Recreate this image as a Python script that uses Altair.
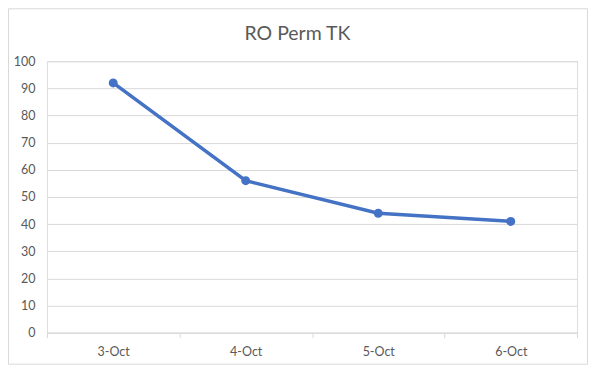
import altair as alt
import pandas as pd

title_text = "RO Perm TK"
dates = ["3-Oct", "4-Oct", "5-Oct", "6-Oct"]
values = [92, 56, 44, 41]
y_ticks = [0, 10, 20, 30, 40, 50, 60, 70, 80, 90, 100]

df = pd.DataFrame({"date": dates, "value": values})
one = pd.DataFrame({"t": [title_text]})

FONT = "Lato"
GRAY = "#595959"
BLUE = "#4472C4"

x = alt.X("date:N", sort=dates, title=None,
          scale=alt.Scale(paddingInner=0, paddingOuter=0),
          axis=alt.Axis(labelAngle=0, tickBand="extent", domainColor="#D9D9D9",
                        tickColor="#D9D9D9", tickSize=5, labelPadding=8,
                        labelFont=FONT, labelFontSize=12.5, labelColor=GRAY, grid=False))
y = alt.Y("value:Q", title=None,
          scale=alt.Scale(domain=[0, 100], nice=False),
          axis=alt.Axis(values=y_ticks, domain=False, ticks=False, labelPadding=12,
                        labelFont=FONT, labelFontSize=12.5, labelColor=GRAY,
                        gridColor="#D9D9D9", gridWidth=1))

base = alt.Chart(df).encode(x=x, y=y)
line = base.mark_line(color=BLUE, strokeWidth=3.5)
pts = base.mark_point(color=BLUE, filled=True, opacity=1, size=80)

frame = alt.Chart(one).mark_rect(fill=None, stroke="#D9D9D9", strokeWidth=1).encode(
    x=alt.value(-38.5), x2=alt.value(531 + 10.5),
    y=alt.value(-52.5), y2=alt.value(272 + 31.5),
)

title = alt.Chart(one).mark_text(
    font=FONT, fontSize=19.5, fontWeight="normal", color=GRAY,
    align="center", baseline="alphabetic",
).encode(text="t:N", x=alt.value(251), y=alt.value(-21))

chart = (frame + title + line + pts).properties(
    width=531, height=272,
    autosize=alt.AutoSizeParams(type="none"),
    padding={"left": 39, "top": 53, "right": 11, "bottom": 32},
).configure_view(stroke=None).configure(background="white")

chart.save("out.html", embed_options={"renderer": "svg", "actions": False})
